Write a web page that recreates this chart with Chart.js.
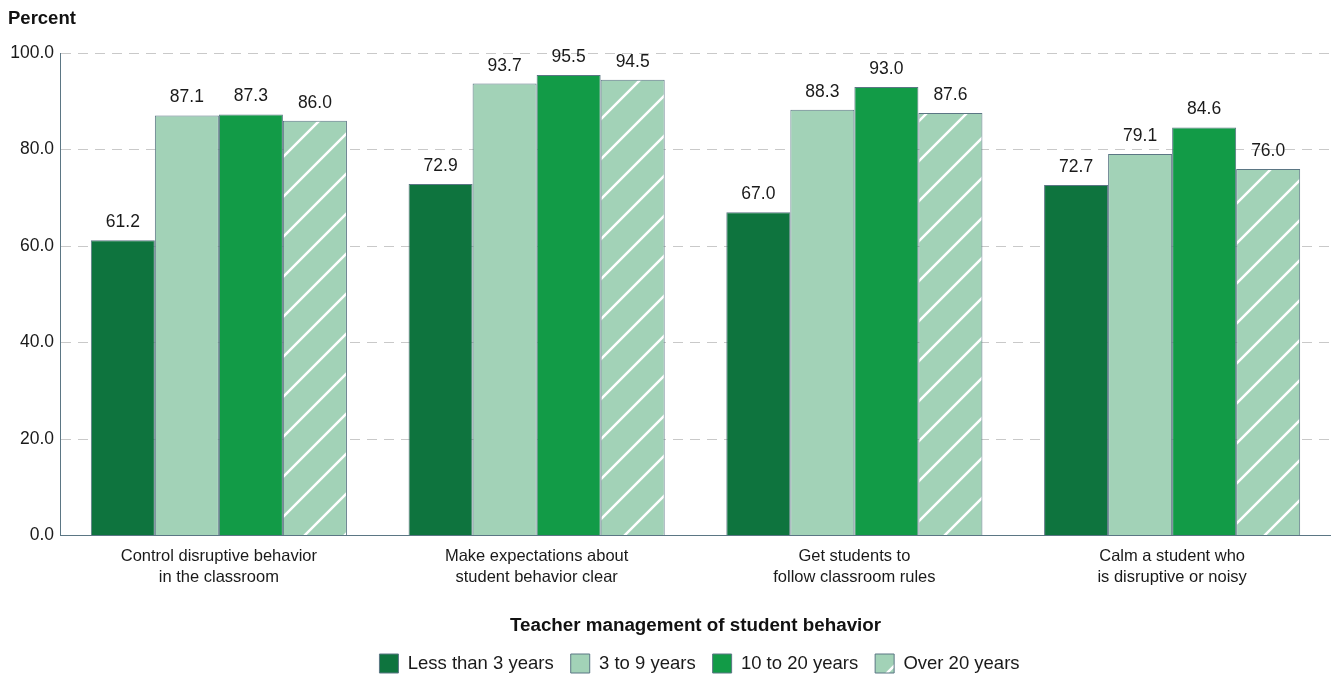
<!DOCTYPE html>
<html>
<head>
<meta charset="utf-8">
<script src="https://cdn.jsdelivr.net/npm/chart.js@4"></script>
<style>
  html, body { margin: 0; padding: 0; background: #fff; }
  #wrap { width: 1331px; height: 677px; }
</style>
</head>
<body>
<div id="wrap"><canvas id="chart" width="1331" height="677"></canvas></div>
<script>
/* ---------- data ---------- */
const categories = [
    ["Control disruptive behavior", "in the classroom"],
    ["Make expectations about", "student behavior clear"],
    ["Get students to", "follow classroom rules"],
    ["Calm a student who", "is disruptive or noisy"]
];
const seriesNames = ["Less than 3 years", "3 to 9 years", "10 to 20 years", "Over 20 years"];
const lessThan3 = [61.2, 72.9, 67.0, 72.7];
const from3to9 = [87.1, 93.7, 88.3, 79.1];
const from10to20 = [87.3, 95.5, 93.0, 84.6];
const over20 = [86.0, 94.5, 87.6, 76.0];
const yTicks = [0, 20, 40, 60, 80, 100];

/* ---------- styling helpers ---------- */
const FONT = "'Liberation Sans', Arial, sans-serif";
const EDGE = "#5b7684";
const TEXT = "#1a1a1a";

function makeHatch() {
    const size = 40;
    const c = document.createElement("canvas");
    c.width = size; c.height = size;
    const g = c.getContext("2d");
    g.fillStyle = "#a2d2b7";
    g.fillRect(0, 0, size, size);
    g.strokeStyle = "#ffffff";
    g.lineWidth = 2.5;
    g.beginPath();
    g.moveTo(-2, size + 2); g.lineTo(size + 2, -2);
    g.moveTo(-size / 2, size / 2); g.lineTo(size / 2, -size / 2);
    g.moveTo(size / 2, size * 1.5); g.lineTo(size * 1.5, size / 2);
    g.stroke();
    return g.createPattern(c, "repeat");
}

// value labels above every bar
const valueLabels = {
    id: "valueLabels",
    afterDatasetsDraw(chart) {
        const ctx = chart.ctx;
        ctx.save();
        ctx.font = "17.5px " + FONT;
        ctx.fillStyle = TEXT;
        ctx.textAlign = "center";
        ctx.textBaseline = "alphabetic";
        chart.data.datasets.forEach((ds, i) => {
            chart.getDatasetMeta(i).data.forEach((bar, j) => {
                ctx.fillText(ds.data[j].toFixed(1), bar.x, bar.y - 13);
            });
        });
        ctx.restore();
    }
};

// center the legend under the plot area instead of the whole canvas
const legendShift = {
    id: "legendShift",
    afterLayout(chart) {
        const lg = chart.legend;
        if (!lg) return;
        const dx = (chart.chartArea.left + chart.chartArea.right) / 2 - chart.width / 2;
        lg.left += dx;
        lg.right += dx;
    }
};

/* ---------- chart ---------- */
const seriesValues = [lessThan3, from3to9, from10to20, over20];
const fills = ["#0e743e", "#a2d2b7", "#129b47", makeHatch()];

new Chart(document.getElementById("chart"), {
    type: "bar",
    data: {
        labels: categories,
        datasets: seriesNames.map((name, i) => ({
            label: name,
            data: seriesValues[i],
            backgroundColor: fills[i],
            borderColor: EDGE,
            borderWidth: 1,
            barPercentage: 1.0,
            categoryPercentage: 0.806
        }))
    },
    options: {
        responsive: false,
        animation: false,
        layout: { padding: { left: 8, right: 0, top: 0, bottom: -6 } },
        plugins: {
            title: {
                display: true,
                text: "Percent",
                align: "start",
                color: "#111",
                font: { family: FONT, size: 18.5, weight: "bold" },
                padding: { top: 8, bottom: 23 }
            },
            legend: {
                position: "bottom",
                labels: {
                    color: TEXT,
                    font: { family: FONT, size: 18.5 },
                    boxWidth: 19,
                    boxHeight: 19,
                    padding: 17
                }
            },
            tooltip: { enabled: false }
        },
        scales: {
            x: {
                grid: { display: false, drawTicks: false },
                border: { color: EDGE, width: 1 },
                ticks: {
                    color: TEXT,
                    font: { family: FONT, size: 16.5, lineHeight: 1.27 },
                    padding: 10,
                    maxRotation: 0
                },
                title: {
                    display: true,
                    text: "Teacher management of student behavior",
                    color: "#111",
                    font: { family: FONT, size: 18.8, weight: "bold" },
                    padding: { top: 17, bottom: 0 }
                }
            },
            y: {
                min: 0,
                max: 100,
                afterBuildTicks(scale) {
                    scale.ticks = yTicks.map(v => ({ value: v }));
                },
                afterFit(scale) {
                    scale.width = 52;
                },
                grid: {
                    color: ctx => ctx.tick && ctx.tick.value === 0 ? "rgba(0,0,0,0)" : "#c9c9c9",
                    drawTicks: false,
                    lineWidth: 1
                },
                border: { color: EDGE, width: 1, dash: [10, 7] },
                ticks: {
                    color: TEXT,
                    font: { family: FONT, size: 17.5 },
                    padding: 6,
                    callback: v => Number(v).toFixed(1)
                }
            }
        }
    },
    plugins: [valueLabels, legendShift]
});
</script>
</body>
</html>
